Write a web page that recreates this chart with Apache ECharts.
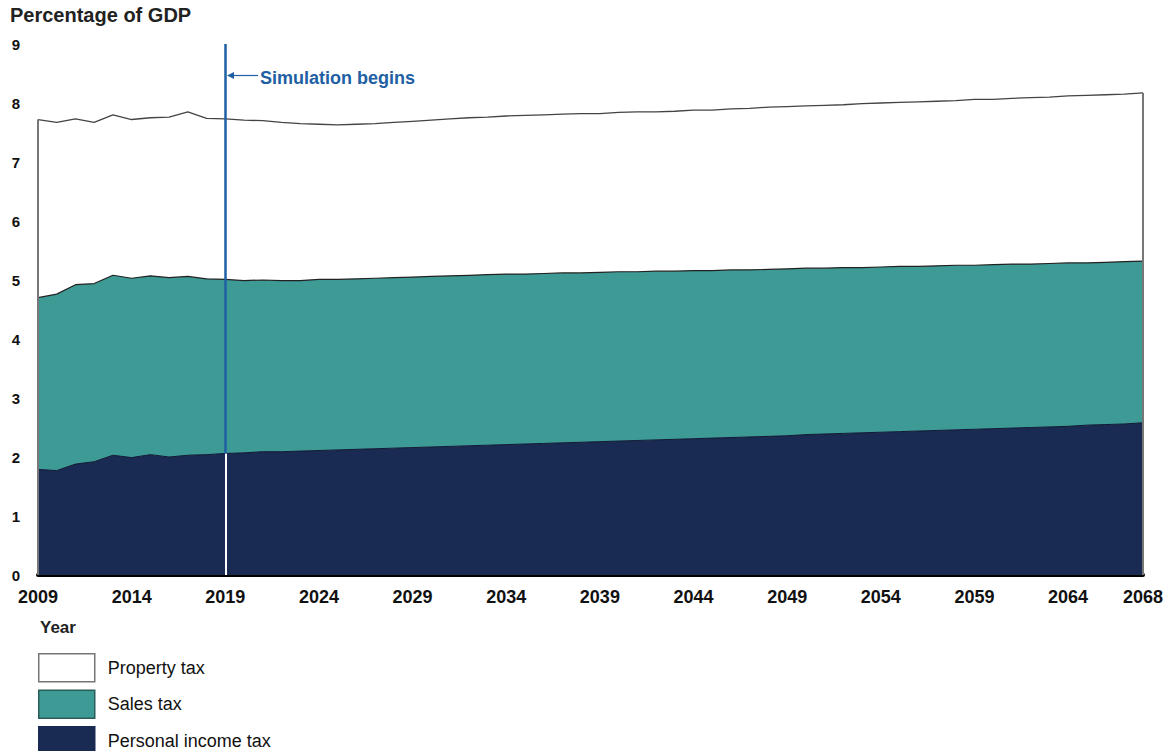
<!DOCTYPE html>
<html>
<head>
<meta charset="utf-8">
<script src="https://cdn.jsdelivr.net/npm/echarts@6/dist/echarts.min.js"></script>
<style>
  html, body { margin: 0; padding: 0; background: #fff; }
  #chart { width: 1168px; height: 751px; }
</style>
</head>
<body>
<div id="chart"></div>
<script>
// state & local tax revenue as share of GDP, stacked by source
const years = []
for (let y = 2009; y <= 2068; y++) years.push(String(y))

// levels (top edge of each band, cumulative)
const pitLevel = [
  1.79, 1.77, 1.88, 1.92, 2.03, 1.99, 2.04, 2.00, 2.03, 2.04,
  2.06, 2.07, 2.09, 2.09, 2.10, 2.11, 2.12, 2.13, 2.14, 2.15,
  2.16, 2.17, 2.18, 2.19, 2.20, 2.21, 2.22, 2.23, 2.24, 2.25,
  2.26, 2.27, 2.28, 2.29, 2.30, 2.31, 2.32, 2.33, 2.34, 2.35,
  2.36, 2.38, 2.39, 2.40, 2.41, 2.42, 2.43, 2.44, 2.45, 2.46,
  2.47, 2.48, 2.49, 2.50, 2.51, 2.52, 2.54, 2.55, 2.56, 2.58
]
const salesLevel = [
  4.70, 4.76, 4.92, 4.94, 5.08, 5.03, 5.07, 5.04, 5.06, 5.02,
  5.01, 4.99, 5.00, 4.99, 4.99, 5.01, 5.01, 5.02, 5.03, 5.04,
  5.05, 5.06, 5.07, 5.08, 5.09, 5.10, 5.10, 5.11, 5.12, 5.12,
  5.13, 5.14, 5.14, 5.15, 5.15, 5.16, 5.16, 5.17, 5.17, 5.18,
  5.19, 5.20, 5.20, 5.21, 5.21, 5.22, 5.23, 5.23, 5.24, 5.25,
  5.25, 5.26, 5.27, 5.27, 5.28, 5.29, 5.29, 5.30, 5.31, 5.32
]
const totalLevel = [
  7.72, 7.67, 7.73, 7.67, 7.80, 7.72, 7.75, 7.76, 7.85, 7.74,
  7.73, 7.71, 7.70, 7.67, 7.65, 7.64, 7.63, 7.64, 7.65, 7.67,
  7.69, 7.71, 7.73, 7.75, 7.76, 7.78, 7.79, 7.80, 7.81, 7.82,
  7.82, 7.84, 7.85, 7.85, 7.86, 7.88, 7.88, 7.90, 7.91, 7.93,
  7.94, 7.95, 7.96, 7.97, 7.99, 8.00, 8.01, 8.02, 8.03, 8.04,
  8.06, 8.06, 8.08, 8.09, 8.10, 8.12, 8.13, 8.14, 8.15, 8.17
]
const yTicks = [0, 1, 2, 3, 4, 5, 6, 7, 8, 9]
const simYear = '2019'

// band widths for stacking
const pitTax = pitLevel.slice()
const salesTax = salesLevel.map((v, i) => +(v - pitLevel[i]).toFixed(2))
const propertyTax = totalLevel.map((v, i) => +(v - salesLevel[i]).toFixed(2))

const simIdx = years.indexOf(simYear)
const lastIdx = years.length - 1
const yMax = yTicks[yTicks.length - 1]

const chart = echarts.init(document.getElementById('chart'), null, { renderer: 'svg' })
const option = {
  backgroundColor: '#fff',
  animation: false,
  textStyle: { fontFamily: 'Liberation Sans, Arial, sans-serif' },
  title: [
    {
      text: 'Percentage of GDP',
      left: 10,
      top: 5,
      padding: 0,
      textStyle: { fontSize: 20, fontWeight: 'bold', color: '#222' }
    },
    {
      text: 'Year',
      left: 40,
      top: 619,
      padding: 0,
      textStyle: { fontSize: 17, fontWeight: 'bold', color: '#222' }
    }
  ],
  legend: {
    orient: 'vertical',
    left: 38,
    top: 653,
    height: 120,
    padding: 0,
    itemWidth: 56,
    itemHeight: 28,
    itemGap: 7,
    icon: 'rect',
    textStyle: { fontSize: 18, color: '#111', padding: [0, 0, 0, 8] },
    data: [
      { name: 'Property tax', itemStyle: { color: '#fff', borderColor: '#777', borderWidth: 1.5 } },
      { name: 'Sales tax', itemStyle: { color: '#3e9a95', borderColor: '#2c5c5a', borderWidth: 1.5 } },
      { name: 'Personal income tax', itemStyle: { color: '#192a53', borderColor: '#192a53', borderWidth: 1.5 } }
    ]
  },
  grid: { left: 38, right: 25, top: 44, bottom: 176 },
  xAxis: {
    type: 'category',
    boundaryGap: false,
    data: years,
    axisLine: { show: true, lineStyle: { color: '#000', width: 4 } },
    axisTick: { show: false },
    axisLabel: {
      interval: (idx) => idx % 5 === 0 || idx === lastIdx,
      fontSize: 18,
      fontWeight: 'bold',
      color: '#111',
      margin: 13
    },
    splitLine: { show: false }
  },
  yAxis: {
    type: 'value',
    min: yTicks[0],
    max: yMax,
    interval: 1,
    axisLine: { show: false },
    axisTick: { show: false },
    splitLine: { show: false },
    axisLabel: { fontSize: 15, fontWeight: 'bold', color: '#111', margin: 18 }
  },
  series: [
    {
      name: 'Personal income tax',
      type: 'line',
      stack: 'tax',
      data: pitTax,
      symbol: 'none',
      z: 3,
      lineStyle: { color: '#0f1a33', width: 1 },
      areaStyle: { color: '#192a53', opacity: 1 },
      itemStyle: { color: '#192a53' },
      markLine: {
        silent: true,
        symbol: 'none',
        label: { show: false },
        data: [
          // gray outline at both ends of the chart
          [
            { coord: [0, 0], lineStyle: { color: '#777', width: 2, type: 'solid' } },
            { coord: [0, totalLevel[0]] }
          ],
          [
            { coord: [lastIdx, 0], lineStyle: { color: '#777', width: 2, type: 'solid' } },
            { coord: [lastIdx, totalLevel[lastIdx]] }
          ],
          // simulation begins marker
          [
            { coord: [simIdx, 0], lineStyle: { color: '#fff', width: 2, type: 'solid' } },
            { coord: [simIdx, pitLevel[simIdx]] }
          ],
          [
            { coord: [simIdx, pitLevel[simIdx]], lineStyle: { color: '#1f5fa3', width: 2.5, type: 'solid' } },
            { coord: [simIdx, yMax] }
          ]
        ]
      }
    },
    {
      name: 'Sales tax',
      type: 'line',
      stack: 'tax',
      data: salesTax,
      symbol: 'none',
      z: 2,
      lineStyle: { color: '#222', width: 1.2 },
      areaStyle: { color: '#3e9a95', opacity: 1 },
      itemStyle: { color: '#3e9a95' }
    },
    {
      name: 'Property tax',
      type: 'line',
      stack: 'tax',
      data: propertyTax,
      symbol: 'none',
      z: 1,
      lineStyle: { color: '#444', width: 1.3 },
      areaStyle: { color: '#fff', opacity: 1 },
      itemStyle: { color: '#fff' }
    }
  ],
  graphic: [
    {
      type: 'group',
      left: 227,
      top: 72,
      children: [
        { type: 'line', shape: { x1: 4, y1: 6, x2: 31, y2: 6 }, style: { stroke: '#1f5fa3', lineWidth: 1.2 } },
        { type: 'polygon', shape: { points: [[0, 6], [7, 2.5], [7, 9.5]] }, style: { fill: '#1f5fa3' } }
      ]
    },
    {
      type: 'text',
      left: 260,
      top: 69,
      style: {
        text: 'Simulation begins',
        fill: '#1f5fa3',
        font: 'bold 18px "Liberation Sans", Arial, sans-serif'
      }
    }
  ]
}
chart.setOption(option)
</script>
</body>
</html>
